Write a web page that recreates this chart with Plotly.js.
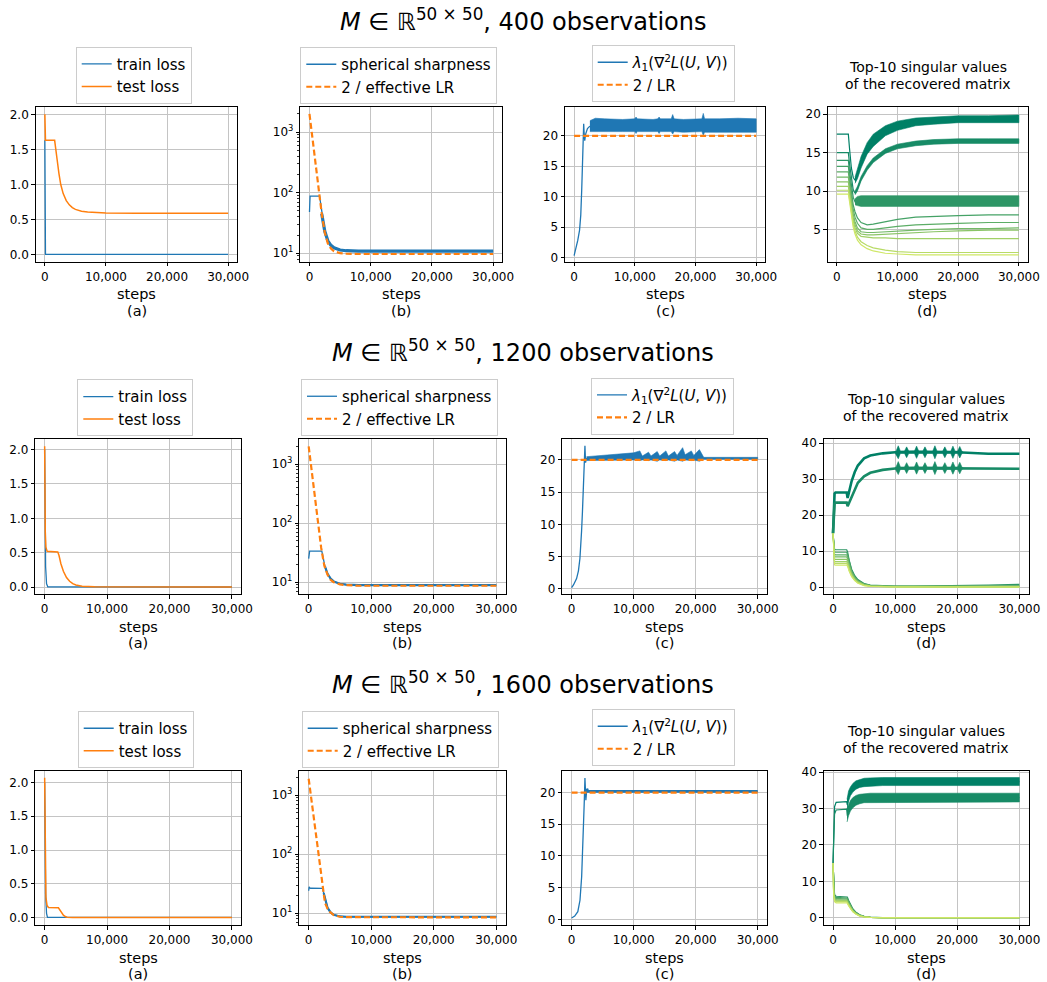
<!DOCTYPE html>
<html>
<head>
<meta charset="utf-8">
<script src="https://cdn.plot.ly/plotly-3.0.1.min.js"></script>
<style>html,body{margin:0;padding:0;background:#fff}#chart{width:1047px;height:982px}</style>
</head>
<body>
<div id="chart"></div>
<script>
// ===================== DATA =====================
const xTicks = [0, 10000, 20000, 30000];
const rowTitles = ['400 observations', '1200 observations', '1600 observations'];
const panelLetters = ['(a)', '(b)', '(c)', '(d)'];
const svTitleLines = ['Top-10 singular values', 'of the recovered matrix'];

// ---- Row 1: 400 observations ----
const r1_train_x = [0, 40, 100, 30000];
const r1_train   = [1.63, 0.6, 0.005, 0.003];
const r1_test_x  = [0, 30, 100, 1600, 1800, 2000, 2300, 2600, 3000, 3500, 4000, 4500, 5000, 6000, 7000, 8000, 10000, 15000, 20000, 25000, 30000];
const r1_test    = [2.0, 1.75, 1.63, 1.63, 1.52, 1.36, 1.16, 1.0, 0.87, 0.77, 0.71, 0.67, 0.645, 0.62, 0.607, 0.6, 0.595, 0.59, 0.59, 0.59, 0.59];
const r1_sharp_x = [0, 60, 100, 1650, 1800, 2000, 2500, 3000, 3500, 4000, 5000, 6000, 8000, 12000, 20000, 30000];
const r1_sharp   = [48, 60, 88, 88, 70, 45, 23, 16, 13.5, 12.3, 11.3, 11.0, 10.8, 10.8, 10.8, 10.8];
const r1_efflr_x = [0, 500, 1000, 1500, 2000, 2500, 3000, 3500, 4000, 5000, 6000, 8000, 12000, 20000, 30000];
const r1_efflr   = [2000, 760, 290, 112, 45, 22, 14.5, 12, 10.8, 10.0, 9.8, 9.7, 9.7, 9.7, 9.7];
const r1_lam_x   = [0, 300, 600, 900, 1100, 1250, 1400, 1500, 1580, 1650, 1750, 1900, 2200, 2600];
const r1_lam     = [0.3, 1.5, 2.8, 4.5, 7, 11, 16, 20, 22, 20.5, 19.2, 20.3, 21.2, 21.6];
const r1_lamband_x = [2600, 3500, 5000, 8000, 10000, 10200, 10400, 13000, 13800, 14000, 14200, 16000, 16240, 16480, 18000, 21050, 21280, 21500, 24000, 27000, 30000];
const r1_lam_hi  = [22.5, 22.9, 22.8, 22.7, 22.8, 23.1, 22.8, 22.7, 22.8, 23.1, 22.8, 22.8, 23.5, 22.8, 22.7, 22.8, 23.7, 22.8, 22.8, 22.9, 22.8];
const r1_lam_lo  = [20.7, 20.6, 20.7, 20.7, 20.7, 20.4, 20.7, 20.7, 20.7, 20.4, 20.7, 20.7, 20.3, 20.7, 20.6, 20.7, 20.1, 20.6, 20.6, 20.6, 20.6];
const r1_lr_x    = [0, 30000];
const r1_lr      = [20, 20];
const r1_sv_x = [0, 1900, 2100, 2400, 2700, 3000, 3400, 4000, 5000, 6000, 8000, 10000, 13000, 16000, 20000, 25000, 30000];
const r1_sv1  = [17.4, 17.4, 15.5, 13.0, 11.8, 11.4, 12.2, 13.8, 15.5, 16.6, 17.8, 18.5, 19.0, 19.2, 19.3, 19.4, 19.4];
const r1_sv2  = [15.0, 15.0, 13.5, 11.5, 10.2, 9.7, 10.3, 11.6, 13.0, 14.0, 15.2, 15.8, 16.2, 16.4, 16.5, 16.5, 16.5];
const r1_sv3  = [14.0, 14.0, 12.5, 10.5, 9.2, 8.6, 8.6, 8.7, 8.7, 8.7, 8.7, 8.7, 8.7, 8.7, 8.7, 8.7, 8.7];
const r1_sv4  = [13.2, 13.2, 11.8, 9.6, 8.2, 7.3, 6.5, 5.9, 5.6, 5.7, 6.0, 6.3, 6.6, 6.7, 6.8, 6.9, 6.9];
const r1_sv5  = [12.5, 12.5, 11.2, 9.0, 7.6, 6.6, 5.8, 5.2, 5.0, 5.0, 5.2, 5.4, 5.6, 5.7, 5.8, 5.9, 5.9];
const r1_sv6  = [11.8, 11.8, 10.6, 8.5, 7.0, 6.0, 5.2, 4.7, 4.6, 4.6, 4.7, 4.8, 4.9, 5.0, 5.1, 5.1, 5.2];
const r1_sv7  = [11.2, 11.2, 10.0, 8.0, 6.5, 5.6, 4.8, 4.4, 4.3, 4.3, 4.4, 4.5, 4.6, 4.7, 4.8, 4.9, 4.9];
const r1_sv8  = [10.6, 10.6, 9.5, 7.5, 6.1, 5.2, 4.5, 4.1, 4.0, 3.9, 3.9, 3.8, 3.8, 3.8, 3.8, 3.8, 3.8];
const r1_sv9  = [10.1, 10.1, 9.0, 7.1, 5.7, 4.8, 4.0, 3.4, 2.9, 2.6, 2.3, 2.1, 2.0, 2.0, 2.0, 2.0, 2.0];
const r1_sv10 = [9.6, 9.6, 8.6, 6.7, 5.3, 4.4, 3.6, 3.0, 2.5, 2.2, 1.9, 1.8, 1.7, 1.7, 1.7, 1.7, 1.7];
const r1_band_x = [3000, 3400, 4000, 5000, 6000, 8000, 10000, 13000, 16000, 20000, 25000, 30000];
const r1_sv1_hi = [11.8, 12.8, 14.5, 16.3, 17.4, 18.5, 19.1, 19.5, 19.6, 19.8, 19.8, 19.9];
const r1_sv1_lo = [11.0, 11.6, 13.0, 14.8, 15.8, 17.2, 17.9, 18.5, 18.7, 18.9, 18.9, 18.9];
const r1_sv2_hi = [10.0, 10.6, 11.9, 13.3, 14.3, 15.5, 16.1, 16.5, 16.7, 16.8, 16.8, 16.8];
const r1_sv2_lo = [9.5, 10.0, 11.3, 12.7, 13.7, 14.9, 15.5, 15.9, 16.1, 16.2, 16.2, 16.2];
const r1_sv3_hi = [9.0, 9.3, 9.4, 9.4, 9.4, 9.4, 9.4, 9.4, 9.4, 9.4, 9.4, 9.4];
const r1_sv3_lo = [8.2, 8.1, 8.0, 8.0, 8.0, 8.0, 8.0, 8.0, 8.0, 8.0, 8.0, 8.0];

// ---- Row 2: 1200 observations ----
const r2_train_x = [0, 50, 150, 300, 500, 30000];
const r2_train   = [2.0, 0.9, 0.3, 0.05, 0.004, 0.002];
const r2_test_x  = [0, 40, 100, 200, 400, 2100, 2300, 2600, 3000, 3500, 4000, 4500, 5000, 6000, 8000, 30000];
const r2_test    = [2.05, 1.3, 0.8, 0.58, 0.52, 0.51, 0.46, 0.34, 0.23, 0.14, 0.085, 0.05, 0.03, 0.012, 0.004, 0.002];
const r2_sharp_x = [0, 80, 150, 2100, 2300, 2600, 3000, 3500, 4000, 5000, 6000, 8000, 30000];
const r2_sharp   = [25, 30, 33.5, 33.5, 26, 18.5, 14, 11.5, 10.3, 9.4, 9.1, 8.9, 8.9];
const r2_efflr_x = [0, 500, 1000, 1500, 2000, 2500, 3000, 3500, 4000, 5000, 6000, 8000, 12000, 20000, 30000];
const r2_efflr   = [2000, 735, 270, 100, 38, 19, 13.5, 11, 10, 9.2, 8.9, 8.7, 8.7, 8.7, 8.7];
const r2_lam_x   = [0, 300, 800, 1100, 1340, 1500, 1610, 1750, 1880, 2000, 2080, 2150, 2250, 2400];
const r2_lam     = [0.2, 0.6, 1.6, 2.8, 4.7, 6.5, 9, 12, 15.3, 18.5, 20, 22.2, 19.6, 20.3];
const r2_lamband_x = [2400, 5000, 8000, 10000, 11000, 11400, 12400, 12800, 13800, 14200, 15200, 15600, 16600, 17000, 17900, 18300, 19300, 19700, 20600, 21000, 21300, 30000];
const r2_lam_hi  = [20.5, 20.7, 20.9, 21.1, 21.4, 20.6, 21.2, 20.6, 21.3, 20.6, 21.4, 20.6, 21.3, 20.7, 21.9, 20.8, 21.4, 20.7, 21.6, 20.9, 20.4, 20.4];
const r2_lam_lo  = [19.9, 20.0, 20.0, 20.0, 19.9, 20.0, 19.9, 20.0, 19.8, 20.0, 19.9, 20.0, 19.8, 20.0, 19.8, 20.0, 19.9, 20.0, 19.8, 20.0, 20.1, 20.1];
const r2_lr_x    = [0, 30000];
const r2_lr      = [20, 20];
const r2_sv_x = [0, 100, 250, 400, 2200, 2350, 2600, 3000, 3500, 4000, 5000, 6000, 8000, 10000, 13000, 16000, 20000, 25000, 30000];
const r2_sv1  = [15, 22, 26, 26.3, 26.3, 24.8, 26.5, 29.5, 32.0, 33.8, 35.8, 36.6, 37.2, 37.5, 37.6, 37.6, 37.5, 37.1, 37.1];
const r2_sv2  = [15, 20, 23.2, 23.5, 23.5, 22.5, 23.5, 25.5, 27.5, 29.0, 30.8, 31.8, 32.6, 33.0, 33.1, 33.1, 33.1, 33.0, 32.9];
const r2_sv3  = [15, 12, 10.5, 10.4, 10.4, 9.8, 7.5, 5.0, 3.2, 2.1, 1.0, 0.6, 0.35, 0.3, 0.3, 0.35, 0.4, 0.6, 0.8];
const r2_sv4  = [15, 11.5, 9.8, 9.7, 9.7, 9.1, 7.0, 4.6, 2.9, 1.9, 0.9, 0.5, 0.3, 0.25, 0.25, 0.25, 0.3, 0.35, 0.4];
const r2_sv5  = [15, 11, 9.1, 9.0, 9.0, 8.5, 6.5, 4.3, 2.7, 1.7, 0.8, 0.45, 0.25, 0.2, 0.2, 0.2, 0.2, 0.25, 0.3];
const r2_sv6  = [15, 10.5, 8.5, 8.4, 8.4, 7.9, 6.0, 4.0, 2.5, 1.6, 0.75, 0.4, 0.2, 0.2, 0.2, 0.2, 0.2, 0.2, 0.2];
const r2_sv7  = [15, 10, 7.8, 7.7, 7.7, 7.3, 5.6, 3.7, 2.3, 1.5, 0.7, 0.35, 0.2, 0.15, 0.15, 0.15, 0.15, 0.15, 0.15];
const r2_sv8  = [15, 9.5, 7.2, 7.1, 7.1, 6.7, 5.1, 3.4, 2.1, 1.4, 0.6, 0.3, 0.15, 0.1, 0.1, 0.1, 0.1, 0.1, 0.1];
const r2_sv9  = [15, 9, 6.7, 6.6, 6.6, 6.2, 4.7, 3.1, 1.9, 1.2, 0.5, 0.25, 0.1, 0.1, 0.1, 0.1, 0.1, 0.1, 0.1];
const r2_sv10 = [15, 8.5, 6.2, 6.1, 6.1, 5.8, 4.4, 2.9, 1.8, 1.1, 0.45, 0.2, 0.08, 0.05, 0.05, 0.05, 0.05, 0.05, 0.05];
const r2_band_x = [10000, 10150, 10500, 10850, 11500, 11850, 12200, 13100, 13450, 13800, 14450, 14800, 15150, 16050, 16400, 16750, 17650, 18000, 18350, 18950, 19300, 19650, 20050, 20400, 20750, 21000];
const r2_sv1_hi = [37.7, 37.8, 39.3, 37.8, 37.8, 39.0, 37.8, 37.8, 39.2, 37.8, 37.8, 39.0, 37.8, 37.8, 39.3, 37.8, 37.8, 39.0, 37.8, 37.8, 39.2, 37.8, 37.8, 39.1, 37.8, 37.6];
const r2_sv1_lo = [37.3, 37.2, 35.7, 37.2, 37.2, 36.0, 37.2, 37.2, 35.8, 37.2, 37.2, 36.0, 37.2, 37.2, 35.7, 37.2, 37.2, 36.0, 37.2, 37.2, 35.8, 37.2, 37.2, 35.9, 37.2, 37.4];
const r2_sv2_hi = [33.3, 33.4, 34.9, 33.4, 33.4, 34.6, 33.4, 33.4, 34.8, 33.4, 33.4, 34.6, 33.4, 33.4, 34.9, 33.4, 33.4, 34.6, 33.4, 33.4, 34.8, 33.4, 33.4, 34.7, 33.4, 33.2];
const r2_sv2_lo = [32.9, 32.8, 31.3, 32.8, 32.8, 31.6, 32.8, 32.8, 31.4, 32.8, 32.8, 31.6, 32.8, 32.8, 31.3, 32.8, 32.8, 31.6, 32.8, 32.8, 31.4, 32.8, 32.8, 31.5, 32.8, 33.0];

// ---- Row 3: 1600 observations ----
const r3_train_x = [0, 50, 150, 300, 450, 30000];
const r3_train   = [2.0, 0.9, 0.35, 0.06, 0.004, 0.002];
const r3_test_x  = [0, 40, 100, 200, 380, 600, 2200, 2400, 2700, 3000, 3300, 3600, 4500, 30000];
const r3_test    = [2.07, 1.2, 0.6, 0.3, 0.18, 0.15, 0.145, 0.12, 0.07, 0.035, 0.015, 0.005, 0.002, 0.001];
const r3_sharp_x = [0, 80, 150, 300, 2200, 2400, 2700, 3000, 3500, 4000, 5000, 6000, 30000];
const r3_sharp   = [24, 28, 27, 26.5, 26.3, 22, 16, 12.5, 10.3, 9.4, 8.8, 8.7, 8.7];
const r3_efflr_x = [0, 500, 1000, 1500, 2000, 2300, 2600, 3000, 3400, 4000, 5000, 6000, 30000];
const r3_efflr   = [1900, 722, 274, 104, 40, 22, 15, 12, 10.5, 9.3, 8.7, 8.55, 8.5];
const r3_lam_x   = [0, 500, 1000, 1350, 1620, 1880, 2050, 2150, 2200, 2300, 2450, 2600, 30000];
const r3_lam     = [0.2, 0.5, 1.2, 3.0, 6.7, 12.5, 18.8, 22.3, 21.0, 18.8, 20.6, 20.2, 20.2];
const r3_lr_x    = [0, 30000];
const r3_lr      = [20, 20];
const r3_sv_x = [0, 100, 250, 500, 2200, 2300, 2500, 2800, 3200, 3700, 4300, 5000, 6000, 8000, 10000, 15000, 20000, 25000, 30000];
const r3_sv1  = [15, 26, 30.5, 31.7, 31.9, 31.0, 33.4, 34.7, 35.7, 36.5, 36.9, 37.2, 37.3, 37.4, 37.4, 37.4, 37.4, 37.4, 37.4];
const r3_sv2  = [15, 24, 28.5, 29.6, 29.8, 28.0, 29.6, 30.6, 31.6, 32.1, 32.6, 32.8, 32.9, 33.0, 33.0, 33.0, 33.0, 33.0, 33.0];
const r3_sv3  = [15, 9, 6.3, 5.9, 5.9, 5.7, 4.8, 3.6, 2.4, 1.5, 0.8, 0.4, 0.15, 0.05, 0.02, 0.02, 0.02, 0.02, 0.02];
const r3_sv4  = [15, 8.5, 6.0, 5.6, 5.6, 5.4, 4.5, 3.4, 2.3, 1.4, 0.75, 0.35, 0.12, 0.04, 0.02, 0.02, 0.02, 0.02, 0.02];
const r3_sv5  = [15, 8, 5.7, 5.3, 5.3, 5.1, 4.3, 3.2, 2.1, 1.3, 0.7, 0.3, 0.1, 0.03, 0.02, 0.02, 0.02, 0.02, 0.02];
const r3_sv6  = [15, 7.6, 5.4, 5.0, 5.0, 4.8, 4.0, 3.0, 2.0, 1.2, 0.65, 0.28, 0.1, 0.03, 0.02, 0.02, 0.02, 0.02, 0.02];
const r3_sv7  = [15, 7.2, 5.1, 4.8, 4.8, 4.6, 3.8, 2.9, 1.9, 1.15, 0.6, 0.26, 0.09, 0.03, 0.02, 0.02, 0.02, 0.02, 0.02];
const r3_sv8  = [15, 6.9, 4.9, 4.6, 4.6, 4.4, 3.7, 2.7, 1.8, 1.1, 0.55, 0.24, 0.08, 0.02, 0.02, 0.02, 0.02, 0.02, 0.02];
const r3_sv9  = [15, 6.6, 4.7, 4.4, 4.4, 4.2, 3.5, 2.6, 1.7, 1.0, 0.5, 0.22, 0.07, 0.02, 0.02, 0.02, 0.02, 0.02, 0.02];
const r3_sv10 = [15, 6.3, 4.4, 4.1, 4.1, 4.0, 3.3, 2.4, 1.6, 0.95, 0.45, 0.2, 0.06, 0.02, 0.02, 0.02, 0.02, 0.02, 0.02];
const r3_band_x = [2250, 2500, 2800, 3200, 3700, 4300, 5000, 6000, 8000, 30000];
const r3_sv1_hi = [32.5, 34.8, 35.9, 36.9, 37.6, 38.0, 38.3, 38.4, 38.5, 38.5];
const r3_sv1_lo = [29.5, 32.0, 33.5, 34.5, 35.3, 35.8, 36.0, 36.2, 36.3, 36.3];
const r3_sv2_hi = [30.0, 31.2, 32.2, 33.0, 33.6, 33.9, 34.1, 34.2, 34.2, 34.2];
const r3_sv2_lo = [26.3, 28.0, 29.3, 30.2, 30.9, 31.3, 31.6, 31.8, 31.8, 31.8];

// ===================== STYLE / LAYOUT =====================
const W = 1047, H = 982;
const BLUE = '#1f77b4', ORANGE = '#ff7f0e';
const FONT = 'DejaVu Sans, Liberation Sans, sans-serif';
function summer(t) { return 'rgb(' + Math.round(255 * t) + ',' + Math.round(255 * (0.5 + 0.5 * t)) + ',102)'; }
const svColors = []; for (let i = 0; i < 10; i++) svColors.push(summer(i * 0.09));

const rowY = [[107.3, 261.7], [439.3, 594], [771, 925]];
const colX = [
  [[35.7, 237.3], [300.3, 502.3], [565, 765.3], [827.7, 1028]],
  [[35.3, 241.3], [299.3, 505.7], [562.3, 767], [823.7, 1028.7]],
  [[35.3, 241.3], [299.3, 505.7], [562.3, 767], [823.7, 1028.7]]
];
const yRanges = [
  [[-0.1, 2.1], [0.86, 3.41], [-0.7, 24.7], [0.8, 20.9]],
  [[-0.1, 2.15], [0.80, 3.42], [-0.8, 23.2], [-1.9, 41.1]],
  [[-0.11, 2.17], [0.80, 3.41], [-0.9, 23.4], [-2.0, 40.3]]
];
const yTickVals = [
  [[0, 0.5, 1, 1.5, 2], 'log', [0, 5, 10, 15, 20], [5, 10, 15, 20]],
  [[0, 0.5, 1, 1.5, 2], 'log', [0, 5, 10, 15, 20], [0, 10, 20, 30, 40]],
  [[0, 0.5, 1, 1.5, 2], 'log', [0, 5, 10, 15, 20], [0, 10, 20, 30, 40]]
];
const titleY = [20, 351, 683];
const legendTops = [[46.7, 47, 45], [379.3, 379, 377.7], [711, 711, 709]];
const legendLefts = [[75.7, 300.3, 591.7], [77.3, 301, 591], [77.7, 301.7, 591.7]];
const svTitleY = [[67, 83.5], [399.3, 416], [731, 747.7]];

const sfx = n => (n === 1 ? '' : String(n));
const traces = [];
function line(n, xs, ys, color, width, dash, name, legIdx) {
  const t = {
    type: 'scatter', mode: 'lines', x: xs, y: ys,
    xaxis: 'x' + sfx(n), yaxis: 'y' + sfx(n),
    line: { color: color, width: width, dash: dash || 'solid' },
    hoverinfo: 'skip', showlegend: !!name
  };
  if (name) { t.name = name; t.legend = 'legend' + sfx(legIdx); }
  traces.push(t);
}
function band(n, xs, hi, lo, color) {
  traces.push({
    type: 'scatter', mode: 'lines',
    x: xs.concat(xs.slice().reverse()), y: hi.concat(lo.slice().reverse()),
    fill: 'toself', fillcolor: color, line: { color: color, width: 0.6 },
    xaxis: 'x' + sfx(n), yaxis: 'y' + sfx(n), hoverinfo: 'skip', showlegend: false
  });
}

const lamName = '<i>λ</i><sub>1</sub>(∇<sup>2</sup><i>L</i>(<i>U</i>, <i>V</i>))';
const DASH = '6px,3px';
const rows = [
  { train: [r1_train_x, r1_train], test: [r1_test_x, r1_test], sharp: [r1_sharp_x, r1_sharp], eff: [r1_efflr_x, r1_efflr],
    lam: [r1_lam_x, r1_lam], lamBand: [r1_lamband_x, r1_lam_hi, r1_lam_lo], lr: [r1_lr_x, r1_lr],
    svx: r1_sv_x, sv: [r1_sv1, r1_sv2, r1_sv3, r1_sv4, r1_sv5, r1_sv6, r1_sv7, r1_sv8, r1_sv9, r1_sv10],
    svBands: [[r1_band_x, r1_sv1_hi, r1_sv1_lo, 0], [r1_band_x, r1_sv2_hi, r1_sv2_lo, 1], [r1_band_x, r1_sv3_hi, r1_sv3_lo, 2]],
    testW: 1.5, sharpW: 3.2, effW: 2.2, lamW: 1.3, svW: 1.2 },
  { train: [r2_train_x, r2_train], test: [r2_test_x, r2_test], sharp: [r2_sharp_x, r2_sharp], eff: [r2_efflr_x, r2_efflr],
    lam: [r2_lam_x, r2_lam], lamBand: [r2_lamband_x, r2_lam_hi, r2_lam_lo], lr: [r2_lr_x, r2_lr],
    svx: r2_sv_x, sv: [r2_sv1, r2_sv2, r2_sv3, r2_sv4, r2_sv5, r2_sv6, r2_sv7, r2_sv8, r2_sv9, r2_sv10],
    svBands: [[r2_band_x, r2_sv1_hi, r2_sv1_lo, 0], [r2_band_x, r2_sv2_hi, r2_sv2_lo, 1]],
    testW: 1.5, sharpW: 2.2, effW: 2.2, lamW: 1.3, svW: 1.2, topW: 2.6 },
  { train: [r3_train_x, r3_train], test: [r3_test_x, r3_test], sharp: [r3_sharp_x, r3_sharp], eff: [r3_efflr_x, r3_efflr],
    lam: [r3_lam_x, r3_lam], lamBand: null, lr: [r3_lr_x, r3_lr],
    svx: r3_sv_x, sv: [r3_sv1, r3_sv2, r3_sv3, r3_sv4, r3_sv5, r3_sv6, r3_sv7, r3_sv8, r3_sv9, r3_sv10],
    svBands: [[r3_band_x, r3_sv1_hi, r3_sv1_lo, 0], [r3_band_x, r3_sv2_hi, r3_sv2_lo, 1]],
    testW: 1.5, sharpW: 2.2, effW: 2.2, lamW: 1.3, svW: 1.2, lamTailW: 2.8 }
];

rows.forEach((R, r) => {
  const base = r * 4;
  const lg = r * 3;
  // (a)
  line(base + 1, R.train[0], R.train[1], BLUE, 1.3, null, 'train loss', lg + 1);
  line(base + 1, R.test[0], R.test[1], ORANGE, R.testW, null, 'test loss', lg + 1);
  // (b)
  line(base + 2, R.sharp[0], R.sharp[1], BLUE, 1.3, null, 'spherical sharpness', lg + 2);
  line(base + 2, R.sharp[0].slice(5), R.sharp[1].slice(5), BLUE, R.sharpW, null, null, 0);
  line(base + 2, R.eff[0], R.eff[1], ORANGE, R.effW, DASH, '2 / effective LR', lg + 2);
  // (c)
  line(base + 3, R.lam[0], R.lam[1], BLUE, R.lamW, null, lamName, lg + 3);
  if (R.lamBand) band(base + 3, R.lamBand[0], R.lamBand[1], R.lamBand[2], BLUE);
  if (R.lamTailW) line(base + 3, R.lam[0].slice(10), R.lam[1].slice(10), BLUE, R.lamTailW, null, null, 0);
  line(base + 3, R.lr[0], R.lr[1], ORANGE, 2.2, DASH, '2 / LR', lg + 3);
  // (d)
  R.sv.forEach((ys, i) => {
    const w = (i < 2 && R.topW) ? R.topW : R.svW;
    line(base + 4, R.svx, ys, svColors[i], w, null, null, 0);
  });
  R.svBands.forEach(b => band(base + 4, b[0], b[1], b[2], svColors[b[3]]));
});

const layout = {
  width: W, height: H,
  margin: { l: 0, r: 0, t: 0, b: 0 },
  paper_bgcolor: '#fff', plot_bgcolor: '#fff',
  font: { family: FONT, color: '#000', size: 12 },
  annotations: [], shapes: []
};

for (let r = 0; r < 3; r++) {
  for (let c = 0; c < 4; c++) {
    const n = r * 4 + c + 1;
    const [l, rr] = colX[r][c];
    const [t, b] = rowY[r];
    const common = {
      showline: true, mirror: true, linecolor: '#000', linewidth: 1,
      ticks: 'outside', ticklen: 3.5, tickwidth: 1, tickcolor: '#000',
      showgrid: true, gridcolor: '#c4c4c4', gridwidth: 1, zeroline: false,
      tickfont: { size: 12, family: FONT, color: '#000' }, fixedrange: true
    };
    layout['xaxis' + sfx(n)] = Object.assign({}, common, {
      domain: [l / W, rr / W], anchor: 'y' + sfx(n),
      range: [-1500, 31500], tickmode: 'array', tickvals: xTicks,
      ticktext: xTicks.map(v => v === 0 ? '0' : v.toLocaleString('en-US'))
    });
    const ya = Object.assign({}, common, {
      domain: [1 - b / H, 1 - t / H], anchor: 'x' + sfx(n), range: yRanges[r][c]
    });
    if (yTickVals[r][c] === 'log') {
      ya.type = 'log';
      ya.tickmode = 'array';
      ya.tickvals = [10, 100, 1000];
      ya.ticktext = ['10<sup>1</sup>', '10<sup>2</sup>', '10<sup>3</sup>'];
      ya.minor = { ticks: 'outside', ticklen: 2, tickcolor: '#000', tickwidth: 0.8, showgrid: false,
        tickmode: 'array', tickvals: [7, 8, 9, 20, 30, 40, 50, 60, 70, 80, 90, 200, 300, 400, 500, 600, 700, 800, 900, 2000] };
    } else {
      ya.tickmode = 'array';
      ya.tickvals = yTickVals[r][c];
      ya.ticktext = yTickVals[r][c].map(v => c === 0 ? v.toFixed(1) : String(v));
    }
    layout['yaxis' + sfx(n)] = ya;

    const cx = (l + rr) / 2 / W;
    layout.annotations.push({ xref: 'paper', yref: 'paper', x: cx, y: 1 - (b + 32.5) / H,
      text: 'steps', showarrow: false, font: { size: 14.5, family: FONT, color: '#000' }, xanchor: 'center', yanchor: 'middle' });
    layout.annotations.push({ xref: 'paper', yref: 'paper', x: cx, y: 1 - (b + 49.2) / H,
      text: panelLetters[c], showarrow: false, font: { size: 14.5, family: FONT, color: '#000' }, xanchor: 'center', yanchor: 'middle' });
    if (c === 3) {
      svTitleLines.forEach((txt, j) => {
        layout.annotations.push({ xref: 'paper', yref: 'paper', x: cx, y: 1 - svTitleY[r][j] / H,
          text: txt, showarrow: false, font: { size: 14, family: FONT, color: '#000' }, xanchor: 'center', yanchor: 'middle' });
      });
    }
  }
  layout.annotations.push({ xref: 'paper', yref: 'paper', x: 523 / W, y: 1 - titleY[r] / H,
    text: '<i>M</i> ∈ ℝ<sup>50 × 50</sup>, ' + rowTitles[r], showarrow: false,
    font: { size: 24, family: FONT, color: '#000' }, xanchor: 'center', yanchor: 'middle' });
  for (let c = 0; c < 3; c++) {
    const k = r * 3 + c + 1;
    layout['legend' + sfx(k)] = {
      x: legendLefts[r][c] / W, y: 1 - legendTops[r][c] / H, xanchor: 'left', yanchor: 'top',
      bgcolor: 'rgba(255,255,255,0.8)', bordercolor: '#cccccc', borderwidth: 1,
      font: { size: 15, family: FONT, color: '#000' }, tracegroupgap: 0, itemwidth: 30
    };
  }
}

Plotly.newPlot('chart', traces, layout, { staticPlot: true, displayModeBar: false });
</script>
</body>
</html>
